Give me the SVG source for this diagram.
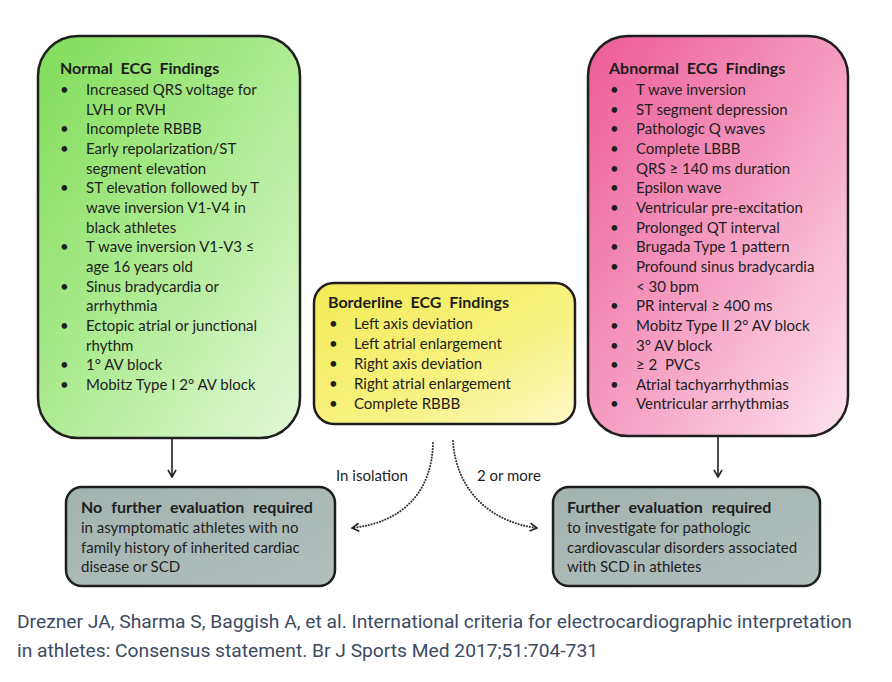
<svg xmlns="http://www.w3.org/2000/svg" width="892" height="682" viewBox="0 0 892 682">
<defs>
<linearGradient id="gGreen" x1="0" y1="0" x2="1" y2="1">
<stop offset="0" stop-color="#7fdd58"/><stop offset="0.5" stop-color="#aeeb92"/><stop offset="1" stop-color="#e3f9d9"/>
</linearGradient>
<linearGradient id="gPink" x1="0" y1="0" x2="1" y2="1">
<stop offset="0" stop-color="#ec5b95"/><stop offset="0.5" stop-color="#f59bc0"/><stop offset="1" stop-color="#fde3ee"/>
</linearGradient>
<linearGradient id="gYellow" x1="0" y1="0" x2="1" y2="1">
<stop offset="0" stop-color="#f3ea55"/><stop offset="0.6" stop-color="#f8f283"/><stop offset="1" stop-color="#fcf9c6"/>
</linearGradient>
<linearGradient id="gGray" x1="0" y1="0" x2="1" y2="1">
<stop offset="0" stop-color="#a3b3b0"/><stop offset="1" stop-color="#b3c0bd"/>
</linearGradient>
<marker id="arr" viewBox="0 0 10 10" refX="9" refY="5" markerWidth="10" markerHeight="10" markerUnits="userSpaceOnUse" orient="auto">
<path d="M2,1 L9,5 L2,9" fill="none" stroke="#222" stroke-width="1.6"/>
</marker>
</defs>
<style>
.box{stroke:#1e1e1e;stroke-width:2.5}
text{font-family:Lato,"Liberation Sans",sans-serif;font-size:15px;fill:#1e1e1e}
.t{font-weight:bold;font-size:16px;word-spacing:4px}
.t2{font-weight:bold;font-size:16px;word-spacing:5px}
.cite{font-family:Roboto,"Liberation Sans",sans-serif;font-size:18.5px;fill:#3c4a62}
.solid{fill:none;stroke:#1e1e1e;stroke-width:1.6}
.dot{fill:none;stroke:#333;stroke-width:2;stroke-dasharray:0.1 2.8;stroke-linecap:round}
</style>
<rect width="892" height="682" fill="#ffffff"/>

<g id="normal">
<rect class="box" x="38" y="36" width="262" height="402" rx="40" fill="url(#gGreen)"/>
<text class="t" x="60" y="74">Normal ECG Findings</text>
<g>
<text x="60" y="95">•</text><text x="86" y="95">Increased QRS voltage for</text>
<text x="86" y="114.7">LVH or RVH</text>
<text x="60" y="134.3">•</text><text x="86" y="134.3">Incomplete RBBB</text>
<text x="60" y="154">•</text><text x="86" y="154">Early repolarization/ST</text>
<text x="86" y="173.6">segment elevation</text>
<text x="60" y="193.3">•</text><text x="86" y="193.3">ST elevation followed by T</text>
<text x="86" y="212.9">wave inversion V1-V4 in</text>
<text x="86" y="232.6">black athletes</text>
<text x="60" y="252.2">•</text><text x="86" y="252.2">T wave inversion V1-V3 ≤</text>
<text x="86" y="271.9">age 16 years old</text>
<text x="60" y="291.5">•</text><text x="86" y="291.5">Sinus bradycardia or</text>
<text x="86" y="311.2">arrhythmia</text>
<text x="60" y="330.8">•</text><text x="86" y="330.8">Ectopic atrial or junctional</text>
<text x="86" y="350.5">rhythm</text>
<text x="60" y="370.1">•</text><text x="86" y="370.1">1° AV block</text>
<text x="60" y="389.8">•</text><text x="86" y="389.8">Mobitz Type I 2° AV block</text>
</g>
</g>

<g id="borderline">
<rect class="box" x="314" y="283" width="261" height="141" rx="20" fill="url(#gYellow)"/>
<text class="t" x="328" y="308">Borderline ECG Findings</text>
<text x="329" y="329">•</text><text x="354" y="329">Left axis deviation</text>
<text x="329" y="349">•</text><text x="354" y="349">Left atrial enlargement</text>
<text x="329" y="369">•</text><text x="354" y="369">Right axis deviation</text>
<text x="329" y="389">•</text><text x="354" y="389">Right atrial enlargement</text>
<text x="329" y="409">•</text><text x="354" y="409">Complete RBBB</text>
</g>

<g id="abnormal">
<rect class="box" x="588" y="36" width="260" height="400" rx="40" fill="url(#gPink)"/>
<text class="t" x="609" y="74">Abnormal ECG Findings</text>
<text x="610" y="95">•</text><text x="636" y="95">T wave inversion</text>
<text x="610" y="114.7">•</text><text x="636" y="114.7">ST segment depression</text>
<text x="610" y="134.3">•</text><text x="636" y="134.3">Pathologic Q waves</text>
<text x="610" y="154">•</text><text x="636" y="154">Complete LBBB</text>
<text x="610" y="173.6">•</text><text x="636" y="173.6">QRS ≥ 140 ms duration</text>
<text x="610" y="193.3">•</text><text x="636" y="193.3">Epsilon wave</text>
<text x="610" y="212.9">•</text><text x="636" y="212.9">Ventricular pre-excitation</text>
<text x="610" y="232.6">•</text><text x="636" y="232.6">Prolonged QT interval</text>
<text x="610" y="252.2">•</text><text x="636" y="252.2">Brugada Type 1 pattern</text>
<text x="610" y="271.9">•</text><text x="636" y="271.9">Profound sinus bradycardia</text>
<text x="636" y="291.5">&lt; 30 bpm</text>
<text x="610" y="311.2">•</text><text x="636" y="311.2">PR interval ≥ 400 ms</text>
<text x="610" y="330.8">•</text><text x="636" y="330.8">Mobitz Type II 2° AV block</text>
<text x="610" y="350.5">•</text><text x="636" y="350.5">3° AV block</text>
<text x="610" y="370.1">•</text><text x="636" y="370.1" xml:space="preserve">≥ 2  PVCs</text>
<text x="610" y="389.8">•</text><text x="636" y="389.8">Atrial tachyarrhythmias</text>
<text x="610" y="409.4">•</text><text x="636" y="409.4">Ventricular arrhythmias</text>
</g>

<g id="no-further">
<rect class="box" x="66" y="487" width="269" height="99" rx="16" fill="url(#gGray)"/>
<text class="t2" x="81" y="513">No further evaluation required</text>
<text x="81" y="533">in asymptomatic athletes with no</text>
<text x="81" y="552.5">family history of inherited cardiac</text>
<text x="81" y="572">disease or SCD</text>
</g>

<g id="further">
<rect class="box" x="553" y="487" width="267" height="99" rx="16" fill="url(#gGray)"/>
<text class="t2" x="567" y="513">Further evaluation required</text>
<text x="567" y="533">to investigate for pathologic</text>
<text x="567" y="552.5">cardiovascular disorders associated</text>
<text x="567" y="572">with SCD in athletes</text>
</g>

<g id="connectors">
<line class="solid" x1="172" y1="439" x2="172" y2="477" marker-end="url(#arr)"/>
<line class="solid" x1="718" y1="437" x2="718" y2="477" marker-end="url(#arr)"/>
<path class="dot" d="M433,443 C432,490 405,522 352,528" marker-end="url(#arr)"/>
<path class="dot" d="M453,441 C456,490 490,522 537,528" marker-end="url(#arr)"/>
<text x="336" y="481">In isolation</text>
<text x="477" y="481">2 or more</text>
</g>

<g id="citation">
<text class="cite" x="17" y="628" textLength="835" lengthAdjust="spacingAndGlyphs">Drezner JA, Sharma S, Baggish A, et al. International criteria for electrocardiographic interpretation</text>
<text class="cite" x="17" y="657" textLength="581" lengthAdjust="spacingAndGlyphs">in athletes: Consensus statement. Br J Sports Med 2017;51:704-731</text>
</g>
</svg>
